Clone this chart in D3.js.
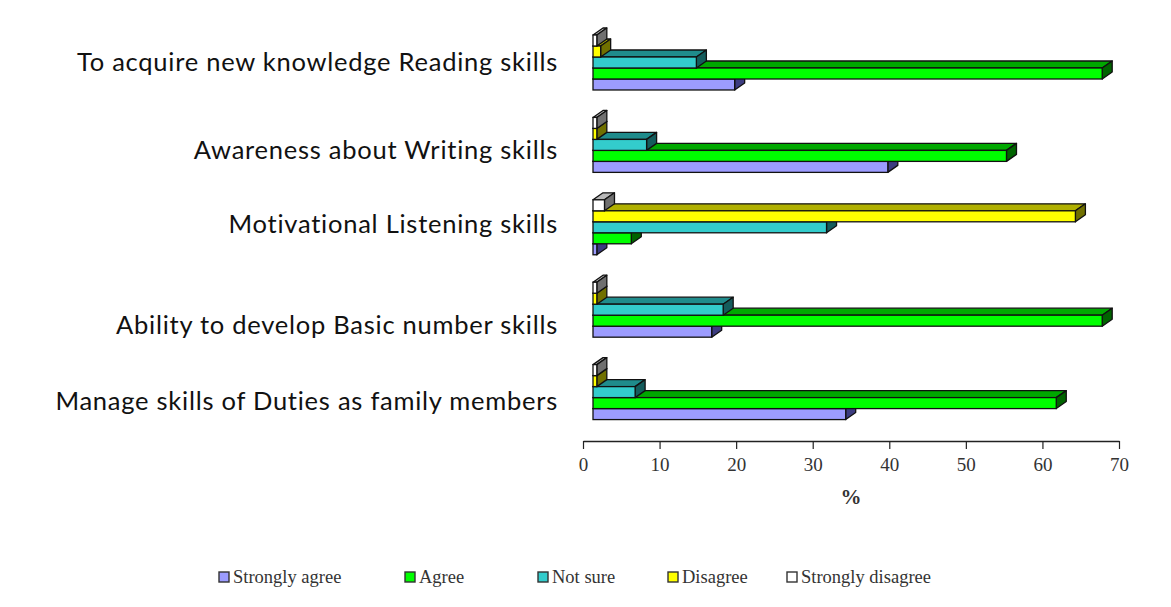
<!DOCTYPE html>
<html>
<head>
<meta charset="utf-8">
<script src="https://cdn.jsdelivr.net/npm/d3@7"></script>
<style>
  html, body { margin: 0; padding: 0; background: #ffffff; }
  svg { display: block; }
</style>
</head>
<body>
<svg id="chart" width="1171" height="607"></svg>
<script>
// Survey statements (one bar cluster each)
const categories = [
  "To acquire new knowledge Reading skills",
  "Awareness about Writing skills",
  "Motivational Listening skills",
  "Ability to develop Basic number skills",
  "Manage skills of Duties as family members"
];

// Response options, legend order
const seriesNames = ["Strongly agree", "Agree", "Not sure", "Disagree", "Strongly disagree"];

// Percentages per statement
const stronglyAgree    = [18.5, 38.5, 0.5, 15.5, 33];
const agree            = [66.5, 54,   5,   66.5, 60.5];
const notSure          = [13.5, 7,    30.5, 17,  5.5];
const disagree         = [1,    0.5,  63,  0.5,  0.5];
const stronglyDisagree = [0.5,  0.5,  1.5, 0.5,  0.5];

const xTicks = [0, 10, 20, 30, 40, 50, 60, 70];
const xTitle = "%";

const seriesValues = [stronglyAgree, agree, notSure, disagree, stronglyDisagree];

// Face colours: front, top, side
const palette = {
  "Strongly agree":    { front: "#9c9cff", top: "#6b6bc4", side: "#3c3c80" },
  "Agree":             { front: "#00ff00", top: "#00a800", side: "#006400" },
  "Not sure":          { front: "#33cccc", top: "#1f8c8c", side: "#145c5c" },
  "Disagree":          { front: "#ffff00", top: "#b0b000", side: "#707000" },
  "Strongly disagree": { front: "#ffffff", top: "#b8b8b8", side: "#707070" }
};

const svg = d3.select("#chart");

// 3D extrusion of each bar (up and to the right)
const depthX = 10, depthY = 7;

const x = d3.scaleLinear().domain([0, 70]).range([583, 1119]);

const yGroup = d3.scaleBand()
  .domain(categories)
  .range([21.3, 433.3])
  .paddingInner(0.333)
  .paddingOuter(0.1665);

// Top to bottom inside a cluster: Strongly disagree ... Strongly agree
const ySeries = d3.scaleBand()
  .domain(seriesNames.slice().reverse())
  .range([0, yGroup.bandwidth()]);

// Flatten data into bars
const bars = [];
categories.forEach((cat, ci) => {
  seriesNames.forEach((s, si) => {
    bars.push({ cat, series: s, value: seriesValues[si][ci], order: si });
  });
});

// Lower bars are painted first so the bar above covers their top face
const barOrder = bars.slice().sort((a, b) => a.order - b.order);

const barG = svg.append("g").attr("class", "bars");

const groups = barG.selectAll("g.bar")
  .data(barOrder)
  .join("g")
  .attr("class", "bar");

groups.each(function(d) {
  const g = d3.select(this);
  const x0 = x(0) + depthX;
  const x1 = x(d.value) + depthX;
  const y0 = yGroup(d.cat) + ySeries(d.series);
  const h = ySeries.bandwidth();
  const c = palette[d.series];

  // top face
  g.append("path")
    .attr("d", `M${x0},${y0} L${x0 + depthX},${y0 - depthY} L${x1 + depthX},${y0 - depthY} L${x1},${y0} Z`)
    .attr("fill", c.top)
    .attr("stroke", "#111")
    .attr("stroke-width", 1.3)
    .attr("stroke-linejoin", "round");
  // right face
  g.append("path")
    .attr("d", `M${x1},${y0} L${x1 + depthX},${y0 - depthY} L${x1 + depthX},${y0 + h - depthY} L${x1},${y0 + h} Z`)
    .attr("fill", c.side)
    .attr("stroke", "#111")
    .attr("stroke-width", 1.3)
    .attr("stroke-linejoin", "round");
  // front face
  g.append("rect")
    .attr("x", x0)
    .attr("y", y0)
    .attr("width", Math.max(0, x1 - x0))
    .attr("height", h)
    .attr("fill", c.front)
    .attr("stroke", "#111")
    .attr("stroke-width", 1.3);
});

// Value axis
const axisY = 441;
const xAxis = d3.axisBottom(x)
  .tickValues(xTicks)
  .tickSize(8)
  .tickSizeOuter(0)
  .tickPadding(9);

const axisG = svg.append("g")
  .attr("transform", `translate(0,${axisY})`)
  .call(xAxis);
axisG.select(".domain").attr("stroke", "#222").attr("stroke-width", 1.3);
axisG.selectAll(".tick line").attr("stroke", "#222").attr("stroke-width", 1.2);
axisG.selectAll(".tick text")
  .attr("font-family", "'Liberation Serif', 'Times New Roman', serif")
  .attr("font-size", 19)
  .attr("fill", "#333");

svg.append("text")
  .attr("x", (x(0) + x(70)) / 2)
  .attr("y", 504)
  .attr("text-anchor", "middle")
  .attr("font-family", "'Liberation Serif', 'Times New Roman', serif")
  .attr("font-size", 21)
  .attr("font-weight", "bold")
  .attr("fill", "#333")
  .text(xTitle);

// Statement labels
const labelNudge = [0, 5, -3, 15, 9];
const labelG = svg.append("g")
  .attr("font-family", "Lato, 'Open Sans', sans-serif")
  .attr("font-size", 25.5)
  .attr("letter-spacing", "0.75px")
  .attr("fill", "#111");

labelG.selectAll("text")
  .data(categories)
  .join("text")
  .attr("x", 558)
  .attr("y", (d, i) => yGroup(d) + yGroup.bandwidth() / 2 + labelNudge[i])
  .attr("dy", "0.35em")
  .attr("text-anchor", "end")
  .text(d => d);

// Legend
const legendX = [219, 405, 538, 668, 787];
const legendY = 577;
const legendG = svg.append("g")
  .attr("font-family", "'Liberation Serif', 'Times New Roman', serif")
  .attr("font-size", 18.5)
  .attr("fill", "#333");

const items = legendG.selectAll("g")
  .data(seriesNames)
  .join("g")
  .attr("transform", (d, i) => `translate(${legendX[i]},${legendY})`);

items.append("rect")
  .attr("x", 0)
  .attr("y", -5)
  .attr("width", 10)
  .attr("height", 10)
  .attr("fill", d => palette[d].front)
  .attr("stroke", "#333")
  .attr("stroke-width", 1.4);

items.append("text")
  .attr("x", 14)
  .attr("y", 0)
  .attr("dy", "0.35em")
  .text(d => d);
</script>
</body>
</html>
